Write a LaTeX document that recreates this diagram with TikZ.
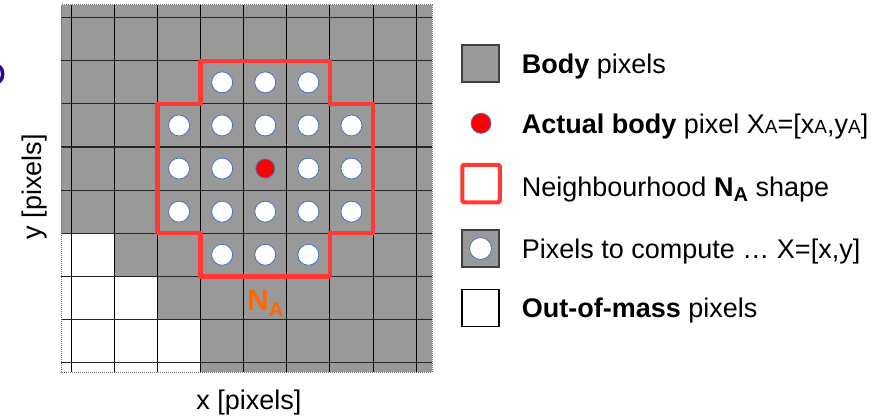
\documentclass[tikz,border=0pt]{standalone}
\usepackage{fontspec}
\setmainfont{Liberation Sans}
\definecolor{bodygrey}{RGB}{153,153,153}
\definecolor{nred}{RGB}{255,56,56}
\definecolor{norange}{RGB}{255,104,0}
\definecolor{cblue}{RGB}{68,114,196}
\definecolor{indigo}{RGB}{51,0,160}
\begin{document}
\begin{tikzpicture}[x=1pt,y=-1pt,
  pix/.style={circle,draw=cblue,line width=0.8pt,fill=white,minimum size=21pt,inner sep=0pt},
  actpix/.style={circle,draw=cblue,line width=0.8pt,fill=red,minimum size=19pt,inner sep=0pt},
  legsq/.style={draw=black!75,line width=1.1pt,minimum size=37pt,inner sep=0pt},
  legtext/.style={anchor=base west,inner sep=0pt,font=\fontsize{27}{32}\selectfont},
  axlabel/.style={inner sep=0pt,font=\fontsize{27}{32}\selectfont}
]
\useasboundingbox (0,0) rectangle (877,417);
% fragment of a cropped glyph at the left edge
\coordinate (f1) at (-1,66);
\coordinate (f2) at (-1,82);
\draw[indigo,line width=3.5pt] (f1) .. controls (4,69) and (4,79) .. (f2);
% grid background
\fill[bodygrey] (61,5) rectangle (432,372);
\fill[white] (61,233.2) -- (114.4,233.2) -- (114.4,276.3) -- (157.5,276.3) -- (157.5,319.4)
  -- (200.6,319.4) -- (200.6,372) -- (61,372) -- cycle;
\foreach \k in {0,...,8}{
  \draw[black,line width=1pt] ({71.3+43.1*\k},5) -- ({71.3+43.1*\k},372);
  \draw[black!85,line width=1.2pt] (61,{17.7+43.1*\k}) -- (432,{17.7+43.1*\k});
}
\draw[black!55,line width=1pt,densely dotted] (61,5) rectangle (432,372);
% neighbourhood shape
\draw[nred,line width=4.5pt,line join=round] (200.6,60.8) -- (329.9,60.8) -- (329.9,103.9) -- (373,103.9)
  -- (373,233.2) -- (329.9,233.2) -- (329.9,276.3) -- (200.6,276.3) -- (200.6,233.2)
  -- (157.5,233.2) -- (157.5,103.9) -- (200.6,103.9) -- cycle;
% pixels to compute
\foreach \i/\cx in {1/222.15,2/265.25,3/308.35}{
  \node[pix] (a\i) at (\cx,82.35) {};
  \node[pix] (e\i) at (\cx,254.75) {};
}
\foreach \i/\cx in {1/179.05,2/222.15,3/265.25,4/308.35,5/351.45}{
  \node[pix] (b\i) at (\cx,125.45) {};
  \node[pix] (d\i) at (\cx,211.65) {};
}
\foreach \i/\cx in {1/179.05,2/222.15,4/308.35,5/351.45}{
  \node[pix] (c\i) at (\cx,168.55) {};
}
\node[actpix] (c3) at (265.25,168.55) {};
% N_A label
\node[anchor=base west,inner sep=0pt,text=norange,font=\fontsize{30}{36}\selectfont\bfseries] (na) at (247,310)
  {N\raisebox{-6pt}{\fontsize{20}{24}\selectfont A}};
% axis labels
\node[axlabel,anchor=base] (xl) at (249,409) {x [pixels]};
\node[axlabel,anchor=base,rotate=90] (yl) at (41.7,186.5) {y [pixels]};
% legend
\node[legsq,fill=bodygrey] (l1) at (480.5,63.5) {};
\node[actpix,minimum size=20pt] (l2) at (481,123.3) {};
\node[draw=nred,line width=4pt,fill=white,minimum size=37.5pt,inner sep=0pt,rounded corners=1.5pt] (l3) at (481,183.5) {};
\node[legsq,fill=bodygrey] (l4) at (480.5,248.5) {};
\node[pix,minimum size=22pt] (l4c) at (480.5,248.5) {};
\node[legsq,fill=white,draw=black] (l5) at (480.5,308) {};
\node[legtext] (t1) at (521.7,73.3) {\textbf{Body} pixels};
\node[legtext] (t2) at (521.7,133) {\textbf{Actual body} pixel X{\fontsize{19}{22}\selectfont A}=[x{\fontsize{19}{22}\selectfont A},y{\fontsize{19}{22}\selectfont A}]};
\node[legtext] (t3) at (521.7,196.7) {Neighbourhood \textbf{N\raisebox{-5pt}{\fontsize{20}{24}\selectfont A}} shape};
\node[legtext] (t4) at (521.7,258) {Pixels to compute … X=[x,y]};
\node[legtext] (t5) at (521.7,317) {\textbf{Out-of-mass} pixels};
\end{tikzpicture}
\end{document}
